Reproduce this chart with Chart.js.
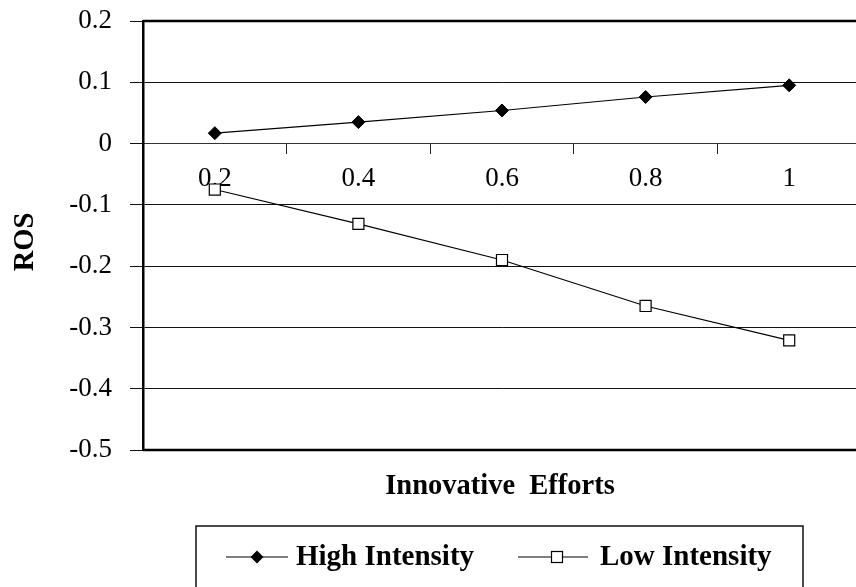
<!DOCTYPE html>
<html>
<head>
<meta charset="utf-8">
<script src="https://cdn.jsdelivr.net/npm/chart.js@4.4.1/dist/chart.umd.min.js"></script>
<style>
  html, body { margin: 0; padding: 0; background: #fff; overflow: hidden; }
  #wrap { width: 856px; height: 587px; overflow: hidden; }
</style>
</head>
<body>
<div id="wrap"><canvas id="rosChart" width="870" height="587"></canvas></div>
<script>
// data
const effortLabels = ["0.2", "0.4", "0.6", "0.8", "1"];
const highIntensity = [0.017, 0.035, 0.054, 0.076, 0.095];
const lowIntensity = [-0.075, -0.131, -0.19, -0.265, -0.321];
const seriesNames = ["High Intensity", "Low Intensity"];
const xTitle = "Innovative  Efforts";
const yTitle = "ROS";

const SERIF = '"Liberation Serif", "Times New Roman", serif';

// frame, axis titles and boxed legend like the Excel original
const decorPlugin = {
  id: "decor",
  afterDraw(chart) {
    const ctx = chart.ctx;
    const a = chart.chartArea;
    ctx.save();
    ctx.strokeStyle = "#000";
    ctx.lineWidth = 2.5;
    ctx.beginPath();
    ctx.moveTo(a.left, a.top);
    ctx.lineTo(a.right + 10, a.top);
    ctx.moveTo(a.left, a.bottom);
    ctx.lineTo(a.right + 10, a.bottom);
    ctx.stroke();

    ctx.fillStyle = "#000";
    ctx.font = "bold 28.5px " + SERIF;
    ctx.textAlign = "center";
    ctx.textBaseline = "middle";
    ctx.fillText(xTitle, 500, 487);

    ctx.save();
    ctx.translate(26, 242);
    ctx.rotate(-Math.PI / 2);
    ctx.fillText(yTitle, 0, 0);
    ctx.restore();

    // legend box
    ctx.lineWidth = 1.5;
    ctx.strokeStyle = "#111";
    ctx.strokeRect(196, 526, 607, 90);

    const ly = 557;
    ctx.lineWidth = 1.2;
    ctx.strokeStyle = "#000";
    ctx.beginPath();
    ctx.moveTo(226, ly); ctx.lineTo(288, ly);
    ctx.moveTo(518, ly); ctx.lineTo(588, ly);
    ctx.stroke();

    // diamond
    ctx.beginPath();
    ctx.moveTo(257, ly - 6.5);
    ctx.lineTo(263.5, ly);
    ctx.lineTo(257, ly + 6.5);
    ctx.lineTo(250.5, ly);
    ctx.closePath();
    ctx.fill();
    // square
    ctx.fillStyle = "#fff";
    ctx.fillRect(551.5, ly - 5.5, 11, 11);
    ctx.strokeRect(551.5, ly - 5.5, 11, 11);

    ctx.fillStyle = "#000";
    ctx.font = "bold 29px " + SERIF;
    ctx.textAlign = "left";
    ctx.fillText(seriesNames[0], 296, ly + 1);
    ctx.fillText(seriesNames[1], 600, ly + 1);
    ctx.restore();
  },
};

const ctx = document.getElementById("rosChart").getContext("2d");
new Chart(ctx, {
  type: "line",
  data: {
    labels: effortLabels,
    datasets: [
      {
        label: seriesNames[0],
        data: highIntensity,
        borderColor: "#000",
        backgroundColor: "#000",
        borderWidth: 1.2,
        pointStyle: "rectRot",
        pointRadius: 6.5,
        pointBorderWidth: 1,
        tension: 0,
      },
      {
        label: seriesNames[1],
        data: lowIntensity,
        borderColor: "#000",
        backgroundColor: "#fff",
        borderWidth: 1.2,
        pointStyle: "rect",
        pointRadius: 7.8,
        pointBorderWidth: 1.2,
        tension: 0,
      },
    ],
  },
  options: {
    responsive: false,
    animation: false,
    layout: { padding: { top: 21, right: 4, bottom: 137, left: 0 } },
    plugins: {
      legend: { display: false },
      tooltip: { enabled: false },
    },
    scales: {
      x: {
        type: "category",
        position: { y: 0 },
        offset: true,
        z: 1,
        grid: {
          offset: true,
          drawOnChartArea: false,
          drawTicks: true,
          tickLength: 10,
          color: "#222",
          lineWidth: 1,
        },
        border: { display: true, color: "#333", width: 1 },
        ticks: {
          color: "#000",
          font: { family: SERIF, size: 27 },
          padding: 9,
          maxRotation: 0,
        },
      },
      y: {
        min: -0.5,
        max: 0.2,
        afterFit(scale) {
          scale.width = 143;
          scale.paddingTop = 0;
          scale.paddingBottom = 0;
        },
        grid: {
          color: "#111",
          lineWidth: 1,
          drawTicks: true,
          tickLength: 13,
        },
        border: { display: true, color: "#000", width: 2.5 },
        ticks: {
          stepSize: 0.1,
          color: "#000",
          font: { family: SERIF, size: 27 },
          padding: 18,
          callback: (v) => String(Number(v.toFixed(1))),
        },
      },
    },
  },
  plugins: [decorPlugin],
});
</script>
</body>
</html>
